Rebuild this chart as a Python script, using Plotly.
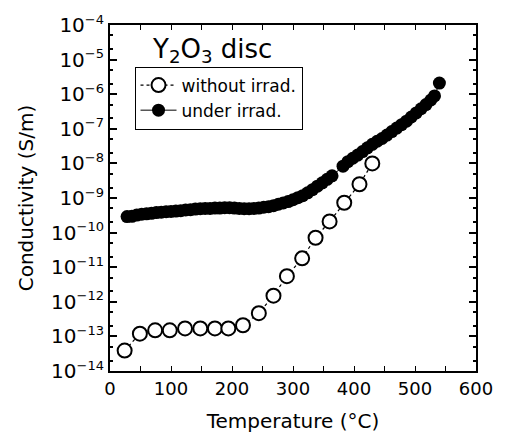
import plotly.graph_objects as go

# Without irradiation (open circles)
T_dark = [24, 49, 74, 98, 123, 148, 172, 194, 218, 244, 268, 290, 315, 337, 360, 384, 409, 430]
sigma_dark = [3.9e-14, 1.2e-13, 1.5e-13, 1.5e-13, 1.7e-13, 1.7e-13, 1.7e-13, 1.7e-13, 2.1e-13,
              4.7e-13, 1.5e-12, 5.5e-12, 1.8e-11, 7.1e-11, 2.1e-10, 7.3e-10, 2.5e-9, 1.0e-8]

# Under irradiation (filled circles)
T_irr = [28, 36, 44, 52, 60, 68, 76, 84, 92, 100, 108, 116, 124, 132, 140, 148, 156, 164, 172, 180,
         188, 196, 204, 212, 220, 228, 236, 244, 252, 260, 268, 276, 284, 292, 300, 308, 316, 324,
         332, 340, 348, 356, 364, 382, 390, 398, 406, 414, 422, 430, 438, 446, 454, 462, 470, 478,
         486, 494, 502, 510, 518, 526, 532, 540]
sigma_irr = [2.9e-10, 2.95e-10, 3.2e-10, 3.4e-10, 3.5e-10, 3.6e-10, 3.8e-10, 3.9e-10, 4.0e-10, 4.1e-10,
             4.2e-10, 4.3e-10, 4.5e-10, 4.6e-10, 4.8e-10, 4.9e-10, 5.0e-10, 5.0e-10, 5.1e-10, 5.1e-10,
             5.25e-10, 5.25e-10, 5.1e-10, 5.0e-10, 4.9e-10, 4.9e-10, 5.0e-10, 5.1e-10, 5.4e-10, 5.6e-10,
             6.0e-10, 6.6e-10, 7.2e-10, 7.9e-10, 8.9e-10, 1.02e-9, 1.17e-9, 1.41e-9, 1.74e-9, 2.19e-9,
             2.75e-9, 3.47e-9, 4.37e-9, 8.3e-9, 1.12e-8, 1.41e-8, 1.74e-8, 2.19e-8, 2.82e-8, 3.55e-8,
             4.37e-8, 5.25e-8, 6.6e-8, 8.3e-8, 1.05e-7, 1.32e-7, 1.66e-7, 2.19e-7, 2.88e-7, 3.8e-7,
             5.0e-7, 6.8e-7, 8.9e-7, 2.1e-6]

x_ticks = [0, 100, 200, 300, 400, 500, 600]
y_exps = [-4, -5, -6, -7, -8, -9, -10, -11, -12, -13, -14]

FONT = "DejaVu Sans, sans-serif"

fig = go.Figure()
fig.add_trace(go.Scatter(
    x=T_dark, y=sigma_dark, mode="lines+markers", name="without irrad.",
    line=dict(color="black", width=1.2, dash="3px,3px"),
    marker=dict(symbol="circle", size=14, color="white", line=dict(color="black", width=2)),
))
fig.add_trace(go.Scatter(
    x=T_irr, y=sigma_irr, mode="lines+markers", name="under irrad.",
    line=dict(color="black", width=1),
    marker=dict(symbol="circle", size=13, color="black", line=dict(color="black", width=0)),
))

fig.update_layout(
    width=505, height=441,
    margin=dict(l=110, r=23, t=17, b=70),
    paper_bgcolor="white", plot_bgcolor="white",
    font=dict(family=FONT, color="black"),
    showlegend=True,
    legend=dict(x=0.067, y=0.88, xanchor="left", yanchor="top",
                bordercolor="black", borderwidth=1, bgcolor="white",
                font=dict(size=17, family=FONT), itemwidth=36,
                tracegroupgap=0),
)
fig.update_xaxes(
    range=[0, 600], tickvals=x_ticks, ticktext=[str(v) for v in x_ticks],
    ticks="inside", ticklen=5, tickwidth=1, tickcolor="black",
    minor=dict(ticks="inside", ticklen=5, dtick=50, tickcolor="black", showgrid=False),
    showline=True, linewidth=2, linecolor="black", mirror="allticks",
    showgrid=False, zeroline=False,
    tickfont=dict(size=18, family=FONT),
    title=dict(text="Temperature (°C)", font=dict(size=20, family=FONT), standoff=16),
)
fig.update_yaxes(
    type="log", range=[-14, -4],
    tickvals=[10.0 ** e for e in y_exps],
    ticktext=['10<sup><span style="font-size:13px">−%d</span></sup>' % (-e) for e in y_exps],
    ticks="inside", ticklen=7, tickwidth=2, tickcolor="black",
    minor=dict(ticks="inside", ticklen=3, tickcolor="black", showgrid=False),
    showline=True, linewidth=2, linecolor="black", mirror="allticks",
    showgrid=False, zeroline=False,
    tickfont=dict(size=20, family=FONT),
    title=dict(text="Conductivity (S/m)", font=dict(size=20, family=FONT), standoff=12),
)
fig.add_annotation(
    x=0.279, y=0.925, xref="paper", yref="paper", xanchor="center", yanchor="middle",
    text="Y<sub>2</sub>O<sub>3</sub> disc", showarrow=False,
    font=dict(size=26, family=FONT, color="black"),
)

fig.write_html("out.html")
